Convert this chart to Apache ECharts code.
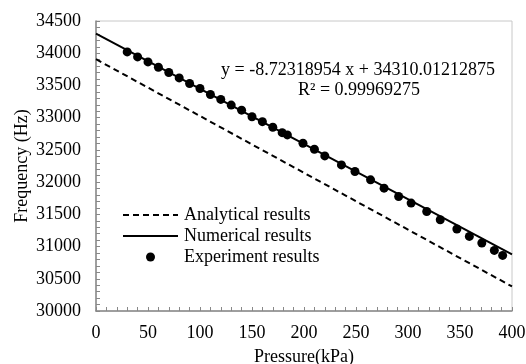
<!DOCTYPE html>
<html>
<head>
<meta charset="utf-8">
<script src="https://cdn.jsdelivr.net/npm/echarts@6/dist/echarts.min.js"></script>
<style>html,body{margin:0;padding:0;background:#fff}#c{width:526px;height:364px}</style>
</head>
<body>
<div id="c"></div>
<script>
var analyticalX = [0, 400];
var analyticalY = [33907, 30381];
var numericalX = [0, 400];
var numericalY = [34305, 30880];
var expX = [30,40,50,60,70,80,90,100,110,120,130,140,150,160,170,179,184,199,210,220,236,249,264,277,291,303,318,331,347,359,371,383,391];
var expY = [34020,33943,33865,33783,33701,33617,33531,33453,33360,33283,33195,33117,33015,32938,32851,32767,32732,32603,32510,32407,32267,32164,32035,31906,31776,31674,31544,31416,31272,31157,31055,30940,30863];
var seriesNames = ['Analytical results', 'Numerical results', 'Experiment results'];
var eqText = 'y = -8.72318954 x + 34310.01212875';
var r2Text = 'R² = 0.99969275';

function pairs(xs, ys){ return xs.map(function(x,i){return [x, ys[i]];}); }

var font = 'Liberation Serif';
var fs = 18;
var chart = echarts.init(document.getElementById('c'), null, {renderer:'canvas'});
chart.setOption({
  animation: false,
  backgroundColor: '#fff',
  textStyle: {fontFamily: font},
  grid: {left: 96, right: 14, top: 21, bottom: 53, containLabel: false, outerBoundsMode: 'none',
         show: true, borderColor: '#c8c8c8', borderWidth: 1, backgroundColor: 'transparent'},
  xAxis: {
    type: 'value', min: 0, max: 400, interval: 50,
    name: 'Pressure(kPa)', nameLocation: 'middle', nameGap: 37, nameMoveOverlap: false,
    nameTextStyle: {fontFamily: font, fontSize: fs, color: '#000'},
    axisLine: {lineStyle: {color: '#888', width: 1.5}},
    axisTick: {inside: true, length: 4, lineStyle: {color: '#888'}},
    minorTick: {show: true, splitNumber: 5, length: 4, lineStyle: {color: '#888'}},
    axisLabel: {fontFamily: font, fontSize: fs, color: '#000', margin: 13, formatter: function(v){return String(v);}},
    splitLine: {show: false}
  },
  yAxis: {
    type: 'value', min: 30000, max: 34500, interval: 500,
    name: 'Frequency (Hz)', nameLocation: 'middle', nameGap: 65, nameRotate: 90, nameMoveOverlap: false,
    nameTextStyle: {fontFamily: font, fontSize: fs, color: '#000'},
    axisLine: {show: true, lineStyle: {color: '#888', width: 1.5}},
    axisTick: {show: true, inside: true, length: 4, lineStyle: {color: '#888'}},
    minorTick: {show: true, splitNumber: 5, length: 4, lineStyle: {color: '#888'}},
    axisLabel: {fontFamily: font, fontSize: fs, color: '#000', margin: 15, formatter: function(v){return String(v);}},
    splitLine: {show: false}
  },
  legend: {
    left: 117, top: 201, orient: 'vertical',
    itemWidth: 55, itemHeight: 9, itemGap: 3,
    textStyle: {fontFamily: font, fontSize: fs, color: '#000', lineHeight: 18, padding: [0,0,0,1]},
    data: [
      {name: seriesNames[0], itemStyle: {opacity: 0}},
      {name: seriesNames[1], itemStyle: {opacity: 0}},
      {name: seriesNames[2]}
    ]
  },
  series: [
    {name: seriesNames[0], type: 'line', data: pairs(analyticalX, analyticalY), symbol: 'none',
     lineStyle: {color: '#000', width: 2, type: [6, 4]}, itemStyle: {color: '#000'}},
    {name: seriesNames[1], type: 'line', data: pairs(numericalX, numericalY), symbol: 'none',
     lineStyle: {color: '#000', width: 2}, itemStyle: {color: '#000'}},
    {name: seriesNames[2], type: 'scatter', data: pairs(expX, expY), symbol: 'circle', symbolSize: 9,
     itemStyle: {color: '#000', opacity: 1}}
  ],
  graphic: [
    {type: 'text', x: 358, y: 70, style: {text: eqText, fontFamily: font, fontSize: fs, fill: '#000', align: 'center', verticalAlign: 'middle'}},
    {type: 'text', x: 359, y: 90, style: {text: r2Text, fontFamily: font, fontSize: fs, fill: '#000', align: 'center', verticalAlign: 'middle'}}
  ]
});
</script>
</body>
</html>
